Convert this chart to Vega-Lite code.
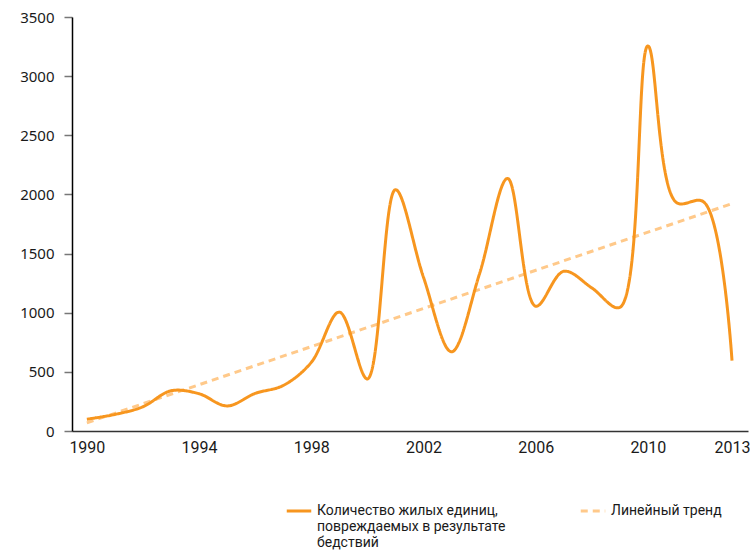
{
  "$schema": "https://vega.github.io/schema/vega-lite/v6.json",
  "autosize": "none",
  "width": 676,
  "height": 414,
  "padding": {"left": 72, "top": 17, "right": 2, "bottom": 125},
  "background": "white",
  "config": {
    "view": {"stroke": null},
    "font": "Roboto"
  },
  "data": {
    "values": [
      {"year": 1990, "value": 100},
      {"year": 1991, "value": 140},
      {"year": 1992, "value": 205},
      {"year": 1993, "value": 340},
      {"year": 1994, "value": 315},
      {"year": 1995, "value": 212},
      {"year": 1996, "value": 318},
      {"year": 1997, "value": 385},
      {"year": 1998, "value": 580},
      {"year": 1999, "value": 1005},
      {"year": 2000, "value": 440},
      {"year": 2001, "value": 2040},
      {"year": 2002, "value": 1300},
      {"year": 2003, "value": 670},
      {"year": 2004, "value": 1330},
      {"year": 2005, "value": 2135},
      {"year": 2006, "value": 1055},
      {"year": 2007, "value": 1350},
      {"year": 2008, "value": 1210},
      {"year": 2009, "value": 1045},
      {"year": 2010, "value": 3255},
      {"year": 2011, "value": 1935},
      {"year": 2012, "value": 1935},
      {"year": 2013, "value": 595}
    ]
  },
  "encoding": {
    "x": {
      "field": "year",
      "type": "quantitative",
      "scale": {"domain": [1989.47, 2013.57], "nice": false, "zero": false},
      "axis": {
        "title": null,
        "values": [1990, 1994, 1998, 2002, 2006, 2010, 2013],
        "format": "d",
        "ticks": false,
        "grid": false,
        "domainColor": "#333333",
        "domainWidth": 1.5,
        "labelFont": "Roboto",
        "labelFontSize": 16,
        "labelColor": "#1a1a1a",
        "labelPadding": 8,
        "labelFlush": false
      }
    },
    "y": {
      "field": "value",
      "type": "quantitative",
      "scale": {"domain": [0, 3500], "nice": false},
      "axis": {
        "title": null,
        "values": [0, 500, 1000, 1500, 2000, 2500, 3000, 3500],
        "format": "d",
        "grid": false,
        "domainColor": "#000000",
        "domainWidth": 1.5,
        "tickColor": "#777777",
        "tickSize": 8,
        "tickWidth": 1.5,
        "labelFont": "Noto Sans",
        "labelFontSize": 15,
        "labelColor": "#1a1a1a",
        "labelPadding": 10
      }
    },
    "color": {
      "datum": "Количество жилых единиц, повреждаемых в результате бедствий",
      "type": "nominal",
      "scale": {
        "domain": ["Количество жилых единиц, повреждаемых в результате бедствий", "Линейный тренд"],
        "range": ["#F7961F", "#FFC98A"]
      },
      "legend": {
        "title": null,
        "orient": "none",
        "legendX": 213,
        "legendY": 480,
        "direction": "horizontal",
        "columns": 2,
        "columnPadding": 68,
        "symbolType": "stroke",
        "symbolSize": 600,
        "symbolStrokeWidth": 3,
        "labelFont": "Roboto",
        "labelFontSize": 14,
        "labelColor": "#1a1a1a",
        "labelLimit": 300,
        "labelExpr": "datum.label == 'Линейный тренд' ? ['Линейный тренд', ' ', ' '] : ['Количество жилых единиц,', 'повреждаемых в результате', 'бедствий']"
      }
    },
    "strokeDash": {
      "datum": "Количество жилых единиц, повреждаемых в результате бедствий",
      "type": "nominal",
      "scale": {
        "domain": ["Количество жилых единиц, повреждаемых в результате бедствий", "Линейный тренд"],
        "range": [[1, 0], [7, 5]]
      },
      "legend": null
    }
  },
  "layer": [
    {
      "transform": [{"regression": "value", "on": "year"}],
      "mark": {"type": "line", "strokeWidth": 3},
      "encoding": {
        "color": {"datum": "Линейный тренд", "type": "nominal"},
        "strokeDash": {"datum": "Линейный тренд", "type": "nominal"}
      }
    },
    {
      "mark": {"type": "line", "interpolate": "catmull-rom", "strokeWidth": 3}
    }
  ]
}
